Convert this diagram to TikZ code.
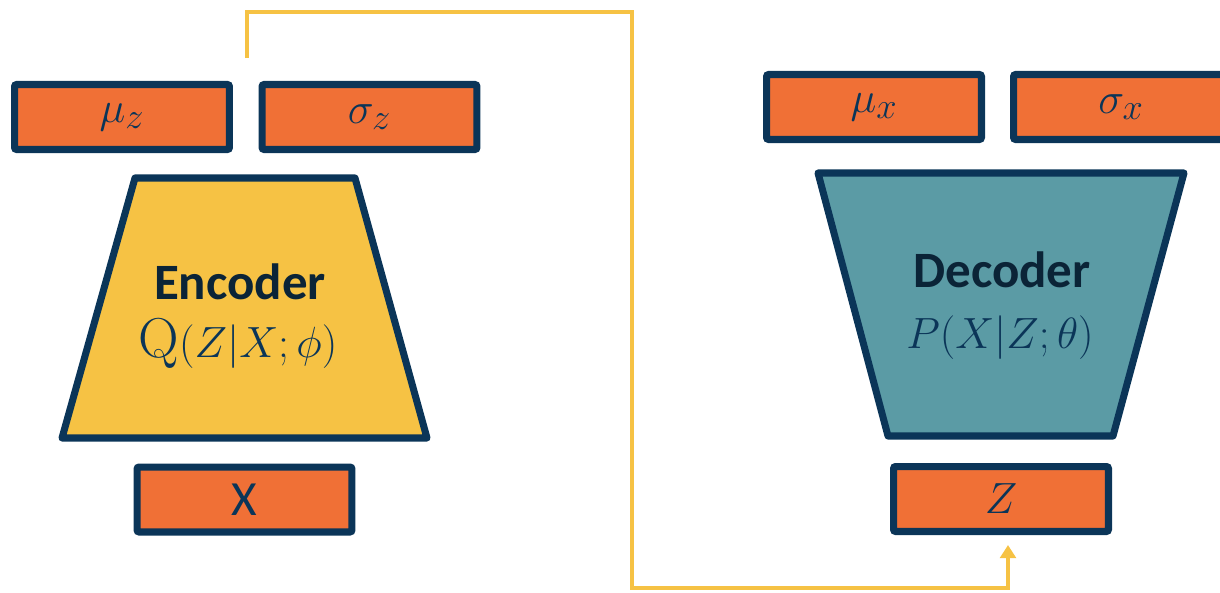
\documentclass[tikz,border=0pt]{standalone}
\usepackage{fontspec}
\newfontfamily\labelfont{Carlito}
\usepackage{tikz}
\usetikzlibrary{arrows.meta, positioning, calc}
\definecolor{navy}{HTML}{0B3558}
\definecolor{inknavy}{HTML}{0B2437}
\definecolor{vaeorange}{HTML}{F07036}
\definecolor{vaeyellow}{HTML}{F6C244}
\definecolor{vaeteal}{HTML}{5B9BA5}

\tikzset{
  varbox/.style={draw=navy, fill=vaeorange, line width=4pt, rounded corners=1.2pt,
    minimum width=4.3cm, minimum height=1.3cm, inner sep=0pt,
    text=navy, font=\fontsize{31}{34}\selectfont},
  netshape/.style={draw=navy, line width=4pt, line join=round},
  nettitle/.style={text=inknavy, font=\labelfont\bfseries\fontsize{29}{34}\selectfont},
  netmath/.style={text=navy, font=\fontsize{32}{36}\selectfont},
  flow/.style={draw=vaeyellow, line width=2.8pt, -{Triangle[length=7.5pt,width=9pt]}}
}

\begin{document}
\begin{tikzpicture}[x=0.02cm, y=-0.02cm]
\useasboundingbox (0,0) rectangle (1220,592);

% Encoder side
\draw[netshape, fill=vaeyellow] (135,178) -- (355,178) -- (427,438) -- (62,438) -- cycle;
\node[nettitle] (enc) at (240,282) {Encoder};
\node[netmath] (qdist) at (238,343) {$\mathrm{Q}(Z|X;\phi)$};

\node[varbox] (muz) at (122,117) {$\mu_z$};
\node[varbox] (sigz) at (369.5,117) {$\sigma_z$};
\node[varbox, font=\labelfont\fontsize{28}{32}\selectfont] (xin) at (244.5,499.5) {X};

% Decoder side
\draw[netshape, fill=vaeteal] (818,173) -- (1184,173) -- (1113,436) -- (888,436) -- cycle;
\node[nettitle] (dec) at (1002,270) {Decoder};
\node[netmath] (pdist) at (1000,338) {$P(X|Z;\theta)$};

\node[varbox] (mux) at (874,107) {$\mu_x$};
\node[varbox] (sigx) at (1121,107) {$\sigma_x$};
\node[varbox] (zin) at (1001,499) {$Z$};

% sampled latent goes over to the decoder input
\coordinate (sample) at (247,58);
\coordinate (hop) at (632,12);
\coordinate (drop) at (1008,588);
\coordinate (zentry) at (1008,545);
\draw[flow] (sample) |- (hop) |- (drop) -- (zentry);
\end{tikzpicture}
\end{document}
